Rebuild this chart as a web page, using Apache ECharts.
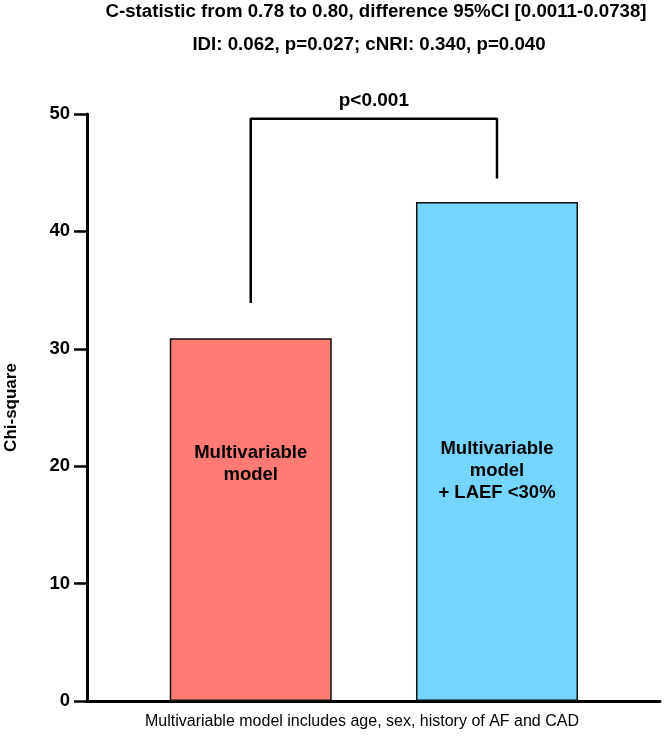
<!DOCTYPE html>
<html>
<head>
<meta charset="utf-8">
<script src="https://cdn.jsdelivr.net/npm/echarts@6/dist/echarts.min.js"></script>
<style>
  html, body { margin: 0; padding: 0; background: #fff; }
  #main { width: 664px; height: 741px; }
</style>
</head>
<body>
<div id="main"></div>
<script>
// data
var categories = ['Multivariable\nmodel', 'Multivariable\nmodel\n+ LAEF <30%'];
var chiSquare = [30.9, 42.5];
var barColors = ['#FF7B73', '#76D5FF'];
var yTicks = [0, 10, 20, 30, 40, 50];
// bracket: left foot, top bar, right foot (chi-square units)
var bracketLevels = [33.9, 49.6, 44.5];
var pLabel = 'p<0.001';
var titleLines = [
  'C-statistic from 0.78 to 0.80, difference 95%CI [0.0011-0.0738]',
  'IDI: 0.062, p=0.027; cNRI: 0.340, p=0.040'
];
var footnote = 'Multivariable model includes age, sex, history of AF and CAD';

var FONT = 'Arial, "Liberation Sans", Helvetica, sans-serif';
// label offset from bar top (px)
var labelTop = [104, 236];

var chart = echarts.init(document.getElementById('main'));

var barData = chiSquare.map(function (v, i) {
  return {
    value: [i, v],
    itemStyle: { color: barColors[i] },
    label: { position: ['50%', labelTop[i]], formatter: categories[i] }
  };
});

var bracketData = [
  [0, bracketLevels[0]],
  [0, bracketLevels[1]],
  [1, bracketLevels[1]],
  [1, bracketLevels[2]]
];

var option = {
  backgroundColor: '#fff',
  animation: false,
  grid: { left: 87, right: 4, top: 114, bottom: 40, outerBoundsMode: 'none' },
  graphic: [
    {
      type: 'text', x: 376, y: 12,
      style: { text: titleLines[0], font: 'bold 18.7px ' + FONT, fill: '#000', align: 'center', verticalAlign: 'middle' }
    },
    {
      type: 'text', x: 369, y: 45,
      style: { text: titleLines[1], font: 'bold 18.7px ' + FONT, fill: '#000', align: 'center', verticalAlign: 'middle' }
    },
    {
      type: 'text', x: 362, y: 722,
      style: { text: footnote, font: '16px ' + FONT, fill: '#000', align: 'center', verticalAlign: 'middle' }
    }
  ],
  xAxis: {
    type: 'value',
    min: -0.665,
    max: 1.662,
    axisLine: { show: true, lineStyle: { color: '#000', width: 3 } },
    axisTick: { show: false },
    axisLabel: { show: false },
    splitLine: { show: false }
  },
  yAxis: {
    type: 'value',
    min: yTicks[0],
    max: yTicks[yTicks.length - 1],
    interval: 10,
    name: 'Chi-square',
    nameLocation: 'middle',
    nameGap: 67,
    nameTextStyle: { fontFamily: FONT, fontSize: 17, fontWeight: 'bold', color: '#000' },
    axisLine: { show: true, onZero: false, lineStyle: { color: '#000', width: 3 } },
    axisTick: { show: true, length: 13, lineStyle: { color: '#000', width: 2.5 } },
    axisLabel: { margin: 17, fontFamily: FONT, fontSize: 18.5, fontWeight: 'bold', color: '#000' },
    splitLine: { show: false }
  },
  series: [
    {
      type: 'bar',
      data: barData,
      barWidth: 162,
      itemStyle: { borderColor: '#111', borderWidth: 1.5 },
      label: {
        show: true,
        align: 'center',
        verticalAlign: 'top',
        fontFamily: FONT,
        fontSize: 18.5,
        fontWeight: 'bold',
        lineHeight: 22,
        color: '#000'
      }
    },
    {
      type: 'line',
      data: bracketData,
      symbol: 'none',
      lineStyle: { color: '#000', width: 2.5 },
      z: 5
    },
    {
      type: 'scatter',
      data: [[0.5, bracketLevels[1]]],
      symbolSize: 1,
      itemStyle: { opacity: 0 },
      label: {
        show: true,
        position: 'top',
        distance: 8,
        formatter: pLabel,
        fontFamily: FONT,
        fontSize: 19,
        fontWeight: 'bold',
        color: '#000',
        opacity: 1
      }
    }
  ]
};

chart.setOption(option);
</script>
</body>
</html>
